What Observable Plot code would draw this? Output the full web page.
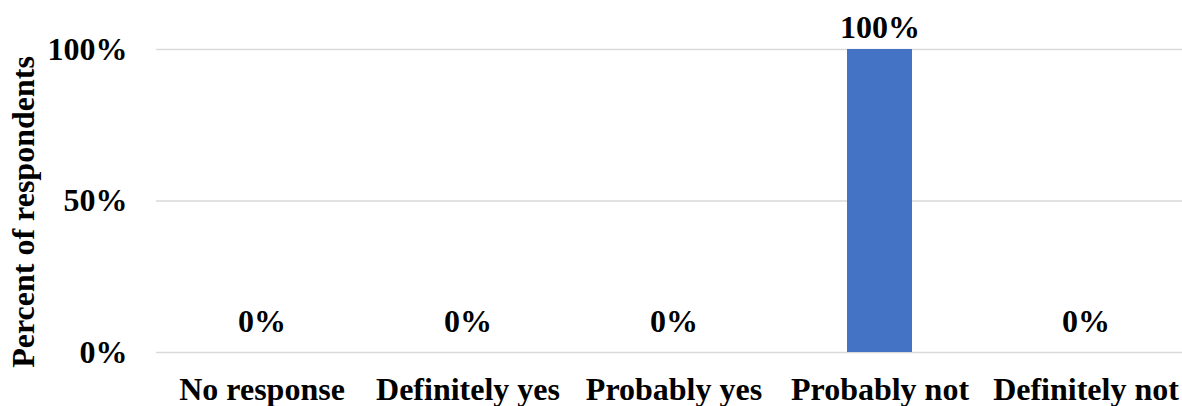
<!DOCTYPE html>
<html><head><meta charset="utf-8">
<script src="https://cdn.jsdelivr.net/npm/d3@7"></script>
<script src="https://cdn.jsdelivr.net/npm/@observablehq/plot@0.6"></script>
<style>
html,body{margin:0;padding:0;background:#fff;}
</style>
</head><body>
<div id="chart"></div>
<script>
const categories = ["No response", "Definitely yes", "Probably yes", "Probably not", "Definitely not"];
const values = [0, 0, 0, 1, 0];
const yTicks = [0, 0.5, 1];
const yTitle = "Percent of respondents";

const data = categories.map((c, i) => ({category: c, value: values[i]}));
const pct = d3.format(".0%");
const font = "'Liberation Serif', 'Times New Roman', serif";

const chart = Plot.plot({
  width: 1182,
  height: 406,
  marginLeft: 156,
  marginRight: -8,
  marginTop: 49,
  marginBottom: 54,
  style: {fontFamily: font, fontWeight: "bold", fontSize: "32px", color: "#000", background: "#fff"},
  x: {domain: categories, paddingInner: 0.685, paddingOuter: 0.3425, label: null},
  y: {domain: [0, 1], label: null},
  marks: [
    Plot.gridY(yTicks, {stroke: "#d9d9d9", strokeOpacity: 1, strokeWidth: 1.5}),
    Plot.axisY(yTicks, {tickSize: 0, tickPadding: 29, tickFormat: pct, fontSize: 32, fontWeight: "bold", label: null}),
    Plot.axisX({tickSize: 0, tickPadding: 25, fontSize: 32, fontWeight: "bold", label: null}),
    Plot.barY(data, {x: "category", y: "value", fill: "#4472C4"}),
    Plot.text(data.filter(d => d.value > 0), {x: "category", y: "value", text: d => pct(d.value), dy: -22, fontSize: 32, fontWeight: "bold", fill: "#000"}),
    Plot.text(data.filter(d => d.value === 0), {x: "category", y: "value", text: d => pct(d.value), dy: -31, fontSize: 32, fontWeight: "bold", fill: "#000"}),
    Plot.text([yTitle], {frameAnchor: "left", textAnchor: "middle", text: d => d, rotate: -90, dx: -133, dy: 11, fontSize: 32, fontWeight: "bold", fill: "#000"})
  ]
});
document.getElementById("chart").appendChild(chart);
</script>
</body></html>
